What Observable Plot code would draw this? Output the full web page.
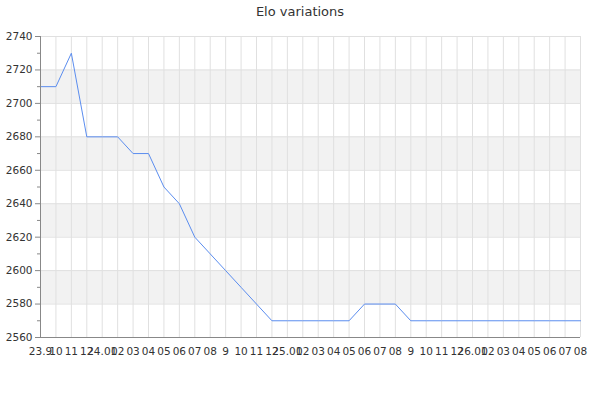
<!DOCTYPE html>
<html>
<head>
<meta charset="utf-8">
<script src="https://cdn.jsdelivr.net/npm/d3@7"></script>
<script src="https://cdn.jsdelivr.net/npm/@observablehq/plot@0.6"></script>
<style>
  body { margin: 0; background: #fff; font-family: "DejaVu Sans", sans-serif; }
  #title { height: 24px; line-height: 24px; text-align: center; font-size: 13px; color: #333; }
</style>
</head>
<body>
<div id="title">Elo variations</div>
<div id="chart"></div>
<script>
// month labels, Sep 2023 .. Aug 2026
const labels = ["23.9","10","11","12","24.01","02","03","04","05","06","07","08",
  "9","10","11","12","25.01","02","03","04","05","06","07","08",
  "9","10","11","12","26.01","02","03","04","05","06","07","08"]
// elo at each month
const elo = [2710,2710,2730,2680,2680,2680,2670,2670,2650,2640,2620,2610,
  2600,2590,2580,2570,2570,2570,2570,2570,2570,2580,2580,2580,
  2570,2570,2570,2570,2570,2570,2570,2570,2570,2570,2570,2570]
const yTicks = [2560,2580,2600,2620,2640,2660,2680,2700,2720,2740]
const yMinor = [2570,2590,2610,2630,2650,2670,2690,2710,2730]
const bandStarts = [2580,2620,2660,2700]

const idx = labels.map((d, i) => i)
const data = elo.map((v, i) => ({i, v}))

let chart = Plot.plot({
  width: 600,
  height: 376,
  marginTop: 12,
  marginLeft: 40,
  marginRight: 20,
  marginBottom: 63,
  style: {fontFamily: "DejaVu Sans", fontSize: "10.5px", color: "#333"},
  x: {domain: [0, labels.length - 1]},
  y: {domain: [2560, 2740]},
  marks: [
    Plot.rectY(bandStarts, {x1: 0, x2: labels.length - 1, y1: d => d, y2: d => d + 20, fill: "#f2f2f2"}),
    Plot.ruleX(idx, {stroke: "#e0e0e0"}),
    Plot.ruleY(yTicks, {stroke: "#e0e0e0"}),
    Plot.line(data, {x: "i", y: "v", stroke: "#5b8def", strokeWidth: 1}),
    Plot.ruleX([0], {stroke: "#888"}),
    Plot.ruleY([2560], {stroke: "#888"}),
    Plot.axisY({ticks: yTicks, tickSize: 5, tickPadding: 3, tickFormat: "d", stroke: "#888", label: null}),
    Plot.axisY({ticks: yMinor, tickSize: 3, text: null, stroke: "#888", label: null}),
    Plot.axisX({ticks: idx, tickSize: 0, tickPadding: 10, tickFormat: i => labels[i], label: null})
  ]
})
d3.select('#chart').append(() => chart)
</script>
</body>
</html>
